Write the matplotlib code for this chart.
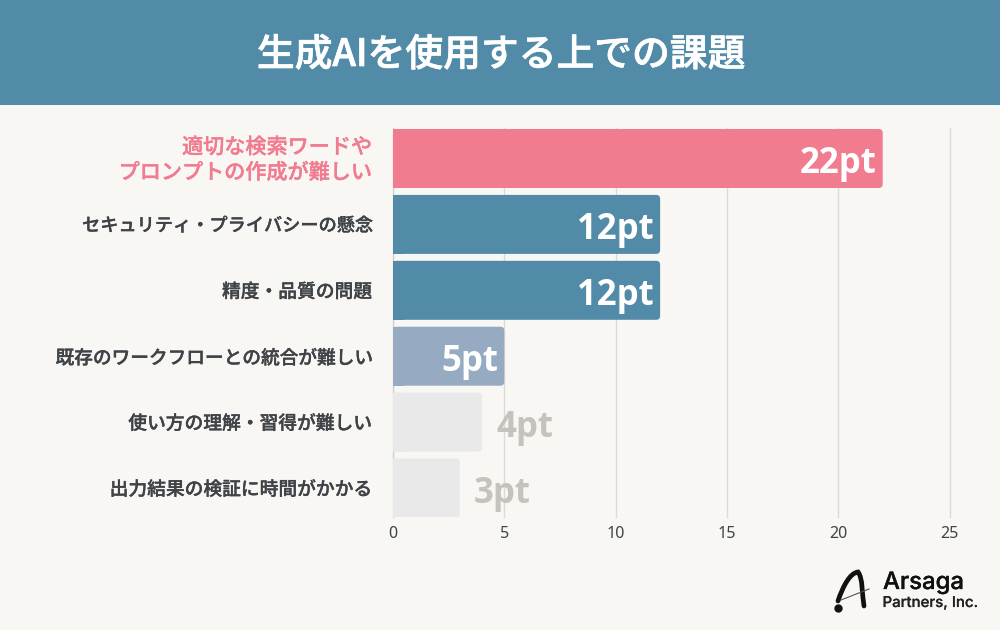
import matplotlib
matplotlib.use("Agg")
import matplotlib.pyplot as plt
import matplotlib.patheffects as pe
from matplotlib.patches import FancyBboxPatch, Rectangle, PathPatch
from matplotlib.path import Path

JP = ["Noto Sans CJK JP", "DejaVu Sans"]
plt.rcParams["font.family"] = JP

title = "生成AIを使用する上での課題"
categories = ["適切な検索ワードや\nプロンプトの作成が難しい", "セキュリティ・プライバシーの懸念",
              "精度・品質の問題", "既存のワークフローとの統合が難しい",
              "使い方の理解・習得が難しい", "出力結果の検証に時間がかかる"]
values = [22, 12, 12, 5, 4, 3]
value_labels = ["22pt", "12pt", "12pt", "5pt", "4pt", "3pt"]
bar_colors = ["#F17C90", "#528BA8", "#528BA8", "#96ABC1", "#E9E9E9", "#E9E9E9"]
label_colors = ["#F17C90", "#3F4348", "#3F4348", "#3F4348", "#3F4348", "#3F4348"]
value_colors = ["white", "white", "white", "white", "#C6C2BE", "#C6C2BE"]
label_sizes = [15.2, 13.1, 13.5, 13.45, 13.5, 13.5]
ticks = [0, 5, 10, 15, 20, 25]
BG = "#F8F7F3"
W, H = 1000, 630

fig = plt.figure(figsize=(10, 6.3), dpi=100, facecolor=BG)

# header and logo layer in pixel coordinates
bg = fig.add_axes([0, 0, 1, 1], zorder=0)
bg.set_xlim(0, W); bg.set_ylim(H, 0); bg.axis("off")
bg.add_patch(Rectangle((0, 0), W, 105, fc="#528BA8", ec="none"))
bg.text(501, 55, title, color="white", fontsize=27.2, fontweight="medium", ha="center", va="center",
        path_effects=[pe.withStroke(linewidth=0.5, foreground="white")])

# logo mark
logo = Path([(838, 601), (843, 586), (850, 573), (858, 572),
             (863, 578), (862, 595), (864, 606)],
            [Path.MOVETO, Path.CURVE4, Path.CURVE4, Path.CURVE4, Path.CURVE4, Path.CURVE4, Path.CURVE4])
bg.add_patch(PathPatch(logo, fc="none", ec="#111111", lw=3.4, capstyle="round"))
bg.plot([841, 869], [600, 589], color="#555555", lw=0.8)
bg.plot([838], [608], "o", color="#111111", ms=5)
bg.text(883, 583, "Arsaga", color="#111111", fontsize=17.2, fontweight="medium",
        family=["Inter", "DejaVu Sans"], ha="left", va="center",
        path_effects=[pe.withStroke(linewidth=0.2, foreground="#111111")])
bg.text(882.5, 603, "Partners, Inc.", color="#222222", fontsize=10.8, fontweight="medium",
        family=["Inter", "DejaVu Sans"], ha="left", va="center",
        path_effects=[pe.withStroke(linewidth=0.1, foreground="#222222")])

# chart
ax_l, ax_r, ax_t, ax_b = 393, 949.5, 128, 517
ax = fig.add_axes([ax_l / W, 1 - ax_b / H, (ax_r - ax_l) / W, (ax_b - ax_t) / H], zorder=1)
ax.patch.set_alpha(0)
step = 65.9
ax.set_xlim(0, 25)
ax.set_ylim((ax_b - 158.5) / step, (ax_t - 158.5) / step)
for s in ax.spines.values():
    s.set_visible(False)
ax.set_xticks(ticks)
ax.set_xticklabels([str(t) for t in ticks], fontsize=11.5, color="#3F4348",
                   family=["Noto Sans", "DejaVu Sans"])
ax.tick_params(axis="x", length=0, pad=6.5)
ax.set_yticks([])
ax.grid(axis="x", color="#DADADA", lw=1, clip_on=False)
ax.set_axisbelow(True)

bar_h = 59 / step
aspect = (1 / step) / (1 / 22.25)
for i, (v, c) in enumerate(zip(values, bar_colors)):
    ax.add_patch(FancyBboxPatch((0, i - bar_h / 2), v, bar_h,
                                boxstyle="round,pad=0,rounding_size=0.18",
                                mutation_aspect=aspect, fc=c, ec="none", zorder=2))
    ax.add_patch(Rectangle((0, i - bar_h / 2), 0.5, bar_h, fc=c, ec="none", zorder=2))
    lab = value_labels[i]
    col = value_colors[i]
    inside = col == "white"
    ax.annotate(lab, (v, i), xytext=(-4.5 if inside else 10, -1), textcoords="offset points",
                ha="right" if inside else "left", va="center_baseline",
                color=col, fontsize=25, fontweight="bold", family=["Open Sans", "DejaVu Sans"], zorder=3)
    ax.annotate(categories[i], (0, i), xytext=(-15, -1.2), textcoords="offset points", ha="right", va="center",
                color=label_colors[i], fontsize=label_sizes[i], fontweight="medium",
                linespacing=1.2, multialignment="right", annotation_clip=False,
                path_effects=[pe.withStroke(linewidth=0.25, foreground=label_colors[i])])
ax.axvline(0, color="#D0D0D0", lw=1, zorder=1)

fig.savefig("out.png", dpi=100, facecolor=BG)
